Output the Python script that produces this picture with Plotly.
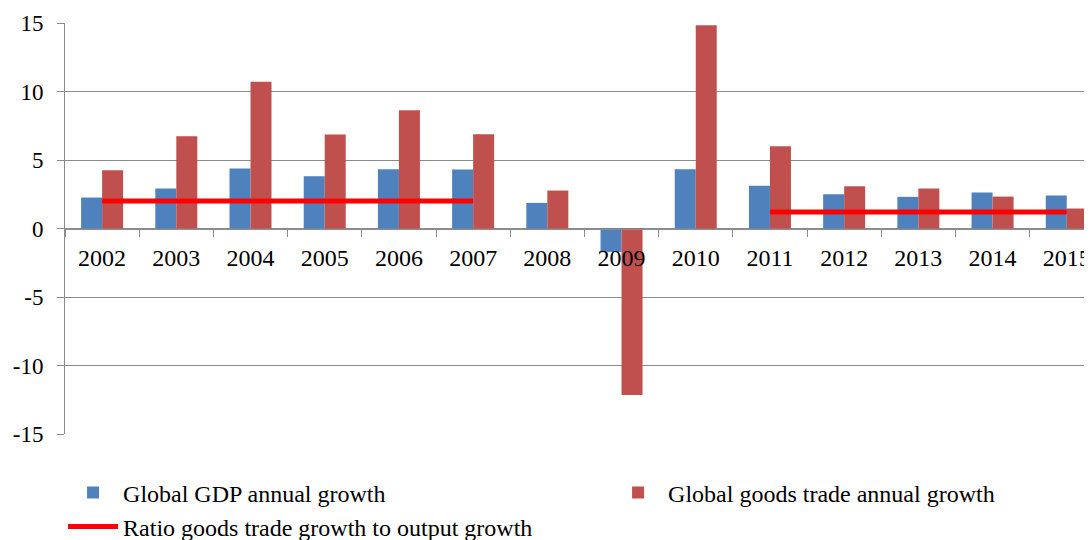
import plotly.graph_objects as go

years = ["2002", "2003", "2004", "2005", "2006", "2007", "2008",
         "2009", "2010", "2011", "2012", "2013", "2014", "2015"]
gdp_growth = [2.26, 2.92, 4.38, 3.81, 4.33, 4.30, 1.87,
              -1.71, 4.33, 3.12, 2.50, 2.31, 2.63, 2.41]
trade_growth = [4.25, 6.73, 10.72, 6.86, 8.63, 6.88, 2.77,
                -12.16, 14.83, 6.00, 3.09, 2.92, 2.33, 1.46]
ratio = [2.01, 2.01, 2.01, 2.01, 2.01, 2.01, None,
         None, None, 1.21, 1.21, 1.21, 1.21, 1.21]
y_tick_values = [-15, -10, -5, 0, 5, 10, 15]
y_tick_labels = ["-15", "-10", "-5", "0", "5", "10", "15"]

BLUE = "#4F81BD"
RED = "#C0504D"
GRID = "#8c8c8c"
FONT = "Liberation Serif"

fig = go.Figure()
fig.add_trace(go.Bar(x=years, y=gdp_growth, name="Global GDP annual growth",
                     marker=dict(color=BLUE, line=dict(width=0)), legend="legend"))
fig.add_trace(go.Bar(x=years, y=trade_growth, name="Global goods trade annual growth",
                     marker=dict(color=RED, line=dict(width=0)), legend="legend2"))
fig.add_trace(go.Scatter(x=years, y=ratio, mode="lines",
                         name="Ratio goods trade growth to output growth",
                         line=dict(color="#FF0000", width=5), connectgaps=False,
                         legend="legend3"))

leg_common = dict(orientation="h", xanchor="left", yanchor="middle",
                  font=dict(family=FONT, size=24, color="black"),
                  itemwidth=50, bgcolor="rgba(0,0,0,0)")

fig.update_layout(
    width=1084, height=532,
    margin=dict(l=57, r=0, t=15, b=106, autoexpand=False),
    paper_bgcolor="white", plot_bgcolor="white",
    font=dict(family=FONT, size=24, color="black"),
    barmode="group", bargap=0.434, bargroupgap=0,
    showlegend=True,
    legend=dict(x=-0.0019, y=-0.1436, **leg_common),
    legend2=dict(x=0.5288, y=-0.1436, **leg_common),
    legend3=dict(x=-0.0019, y=-0.226, **leg_common),
)
fig.update_xaxes(type="category", range=[-0.5, 13.34],
                 anchor="free", position=0.5,
                 showline=True, linecolor=GRID, linewidth=1,
                 ticks="outside", ticklen=7, tickcolor=GRID, tickson="boundaries",
                 showgrid=False, tickfont=dict(family=FONT, size=24, color="black"),
                 ticklabelstandoff=8, ticklabeloverflow="allow")
fig.update_yaxes(range=[-15, 15], tickmode="array",
                 tickvals=y_tick_values, ticktext=y_tick_labels,
                 showline=True, linecolor=GRID, linewidth=1,
                 ticks="outside", ticklen=7, tickcolor=GRID,
                 showgrid=True, gridcolor=GRID, gridwidth=1, zeroline=False,
                 tickfont=dict(family=FONT, size=23, color="black"),
                 ticklabelstandoff=9)

fig.write_html("out.html")
